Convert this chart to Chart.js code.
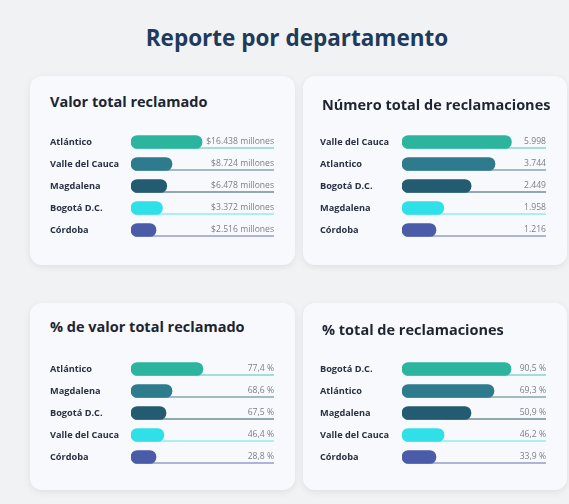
<!DOCTYPE html>
<html>
<head>
<meta charset="utf-8">
<script src="https://cdn.jsdelivr.net/npm/chart.js@4.4.1/dist/chart.umd.min.js"></script>
<style>
	body { margin: 0; background: #f1f2f4; width: 569px; height: 504px; overflow: hidden; position: relative; font-family: "Open Sans", sans-serif; }
	h1 { position: absolute; left: 0; width: 594px; top: 24px; margin: 0; text-align: center; font-size: 22.5px; font-weight: 700; color: #1f3a5b; line-height: 28px; }
	.card { position: absolute; background: #f7f9fd; border-radius: 12px; box-shadow: 0 2px 7px rgba(0,0,0,0.08); }
	.card h2 { position: absolute; margin: 0; font-size: 14.5px; font-weight: 700; color: #1e2430; line-height: 18px; white-space: nowrap; }
	.card .box { position: absolute; left: 0; top: 48px; width: 100%; height: 130px; }
</style>
</head>
<body>
<h1>Reporte por departamento</h1>
<div class="card" style="left:30px;top:76px;width:265px;height:189px"><h2 style="left:20px;top:17px">Valor total reclamado</h2><div class="box"><canvas id="chartValor"></canvas></div></div>
<div class="card" style="left:303px;top:76px;width:264px;height:189px"><h2 style="left:19px;top:20px">Número total de reclamaciones</h2><div class="box"><canvas id="chartNumero"></canvas></div></div>
<div class="card" style="left:30px;top:303px;width:265px;height:187px"><h2 style="left:20px;top:15px">% de valor total reclamado</h2><div class="box"><canvas id="chartPctValor"></canvas></div></div>
<div class="card" style="left:303px;top:303px;width:264px;height:187px"><h2 style="left:19px;top:18px">% total de reclamaciones</h2><div class="box"><canvas id="chartPctRecl"></canvas></div></div>
<script>
// colores por posición de la fila
var rowColors = ['#2bb59f', '#2e7b8e', '#235c70', '#2fe0e8', '#4a5ca8'];
var lineColors = ['#86d6ca', '#86a4ad', '#6f8c97', '#8eecf0', '#959cc9'];

// Valor total reclamado (millones)
var valorDeptos = ['Atlántico', 'Valle del Cauca', 'Magdalena', 'Bogotá D.C.', 'Córdoba'];
var valorMillones = [16438, 8724, 6478, 3372, 2516];
var valorBarra = [49.7, 28.7, 25, 22, 17.5];

// Número total de reclamaciones
var numeroDeptos = ['Valle del Cauca', 'Atlantico', 'Bogotá D.C.', 'Magdalena', 'Córdoba'];
var numeroReclamaciones = [5998, 3744, 2449, 1958, 1216];
var numeroBarra = [76, 64.6, 48, 29, 23.6];

// % de valor total reclamado
var pctValorDeptos = ['Atlántico', 'Magdalena', 'Bogotá D.C.', 'Valle del Cauca', 'Córdoba'];
var pctValor = [77.4, 68.6, 67.5, 46.4, 28.8];
var pctValorBarra = [50.3, 28.7, 24.5, 23, 17.5];

// % total de reclamaciones
var pctReclDeptos = ['Bogotá D.C.', 'Atlántico', 'Magdalena', 'Valle del Cauca', 'Córdoba'];
var pctRecl = [90.5, 69.3, 50.9, 46.2, 33.9];
var pctReclBarra = [75.7, 63.9, 47.9, 29.2, 23.6];

function miles(n)
{
	return String(n).replace(/\B(?=(\d{3})+(?!\d))/g, '.');
}
function pct(n)
{
	return n.toFixed(1).replace('.', ',') + ' %';
}

// linea de fondo y texto del valor de cada fila
var trackPlugin = {
	id: 'track',
	beforeDatasetsDraw: function (chart)
	{
		var ctx = chart.ctx;
		var area = chart.chartArea;
		var meta = chart.getDatasetMeta(0);
		ctx.save();
		meta.data.forEach(function (bar, i)
		{
			var y = bar.y + 6;
			ctx.strokeStyle = lineColors[i];
			ctx.lineWidth = 1.3;
			ctx.beginPath();
			ctx.moveTo(area.left + 4, y);
			ctx.lineTo(area.right, y);
			ctx.stroke();
		});
		ctx.restore();
	},
	afterDatasetsDraw: function (chart)
	{
		var ctx = chart.ctx;
		var area = chart.chartArea;
		var meta = chart.getDatasetMeta(0);
		var texts = chart.options.plugins.track.texts;
		ctx.save();
		ctx.font = '8.6px "Open Sans", sans-serif';
		ctx.fillStyle = '#7b7f86';
		ctx.textAlign = 'right';
		ctx.textBaseline = 'middle';
		meta.data.forEach(function (bar, i)
		{
			ctx.fillText(texts[i], area.right, bar.y - 0.5);
		});
		ctx.restore();
	}
};

function makeChart(id, labels, barras, texts, padLeft, axisWidth)
{
	return new Chart(document.getElementById(id), {
		type: 'bar',
		plugins: [trackPlugin],
		data: {
			labels: labels,
			datasets: [{
				data: barras,
				backgroundColor: rowColors,
				borderRadius: 7,
				borderSkipped: false,
				barThickness: 13
			}]
		},
		options: {
			indexAxis: 'y',
			responsive: true,
			maintainAspectRatio: false,
			animation: false,
			layout: { padding: { left: padLeft, right: 21, top: 7, bottom: 13 } },
			plugins: {
				legend: { display: false },
				tooltip: { enabled: false },
				track: { texts: texts }
			},
			scales: {
				x: { display: false, min: 0, max: 100 },
				y: {
					grid: { display: false },
					border: { display: false },
					afterFit: function (scale) { scale.width = axisWidth; },
					ticks: {
						crossAlign: 'far',
						color: '#2a3142',
						padding: 0,
						font: { family: '"Open Sans", sans-serif', size: 9.2, weight: 'bold' }
					}
				}
			}
		}
	});
}

makeChart('chartValor', valorDeptos, valorBarra, valorMillones.map(function (v) { return '$' + miles(v) + ' millones'; }), 20, 81);
makeChart('chartNumero', numeroDeptos, numeroBarra, numeroReclamaciones.map(miles), 17, 82);
makeChart('chartPctValor', pctValorDeptos, pctValorBarra, pctValor.map(pct), 20, 81);
makeChart('chartPctRecl', pctReclDeptos, pctReclBarra, pctRecl.map(pct), 17, 82);
</script>
</body>
</html>
